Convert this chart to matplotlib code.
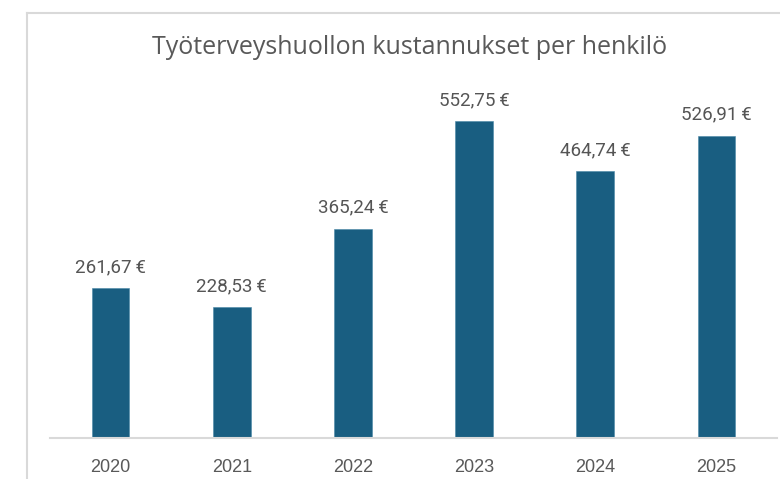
import matplotlib
matplotlib.use('Agg')
import matplotlib.pyplot as plt
from matplotlib.lines import Line2D

# data
years = ['2020', '2021', '2022', '2023', '2024', '2025']
costs = [261.67, 228.53, 365.24, 552.75, 464.74, 526.91]
title = 'Työterveyshuollon kustannukset per henkilö'

W, H = 780, 479
fig = plt.figure(figsize=(W / 100, H / 100), dpi=100)

# outer chart frame (partly cropped in the original)
frame_col = '#d9d9d9'
fig.add_artist(Line2D([27 / W, 27 / W], [0, 1 - 13 / H], color=frame_col, lw=1.5))
fig.add_artist(Line2D([27 / W, 1], [1 - 13 / H, 1 - 13 / H], color=frame_col, lw=1.5))

ax_top = 90
ax_bot = 438
ax = fig.add_axes([50 / W, (H - ax_bot) / H, (777 - 50) / W, (ax_bot - ax_top) / H])

x = range(len(years))
bars = ax.bar(x, costs, width=0.31, color='#195e81', edgecolor='#4a87a6', linewidth=0.4)

ax.set_xlim(-0.5, len(years) - 0.5)
ax.set_ylim(0, (ax_bot - ax_top) / 0.5735)

for xi, v in zip(x, costs):
    lbl = f'{v:.2f}'.replace('.', ',') + '\u2009€'
    ax.annotate(lbl, (xi, v), xytext=(0, 21), textcoords='offset pixels',
                ha='center', va='center', fontsize=13.5, color='#555555',
                family=['Roboto', 'DejaVu Sans'])

ax.set_xticks(list(x))
ax.set_xticklabels(years, fontsize=13, color='#595959', family='Liberation Sans')
ax.tick_params(axis='x', length=0, pad=15)
ax.set_yticks([])
for s in ['top', 'right', 'left']:
    ax.spines[s].set_visible(False)
ax.spines['bottom'].set_color('#d9d9d9')
ax.spines['bottom'].set_linewidth(1.5)

fig.text(410 / W, 1 - 48 / H, title, ha='center', va='center', fontsize=18,
         color='#595959', family='Open Sans')

fig.savefig('out.png', dpi=100)
